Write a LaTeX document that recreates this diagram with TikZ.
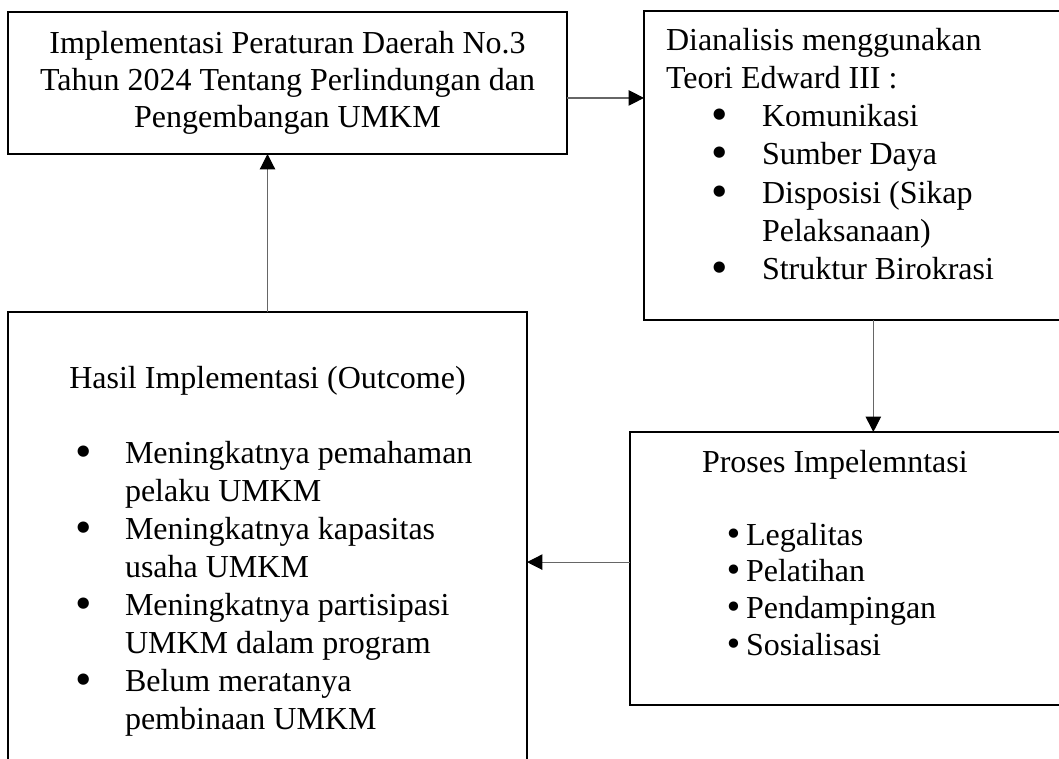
\documentclass[tikz,border=0pt]{standalone}
\usepackage{fontspec}
\setmainfont{Liberation Serif}
\newfontfamily\dotfont{DejaVu Sans}
\usetikzlibrary{arrows.meta}

\newlength\pxu
\setlength\pxu{0.375pt}
\newcommand{\bigdot}{{\dotfont\bfseries\textbullet}}
\newcommand{\smalldot}{{\dotfont\textbullet}}
\newcommand{\textat}[2]{\hspace*{#1\pxu}#2}
\newcommand{\bulletat}[4][\bigdot]{\hspace*{#2\pxu}\makebox[0pt]{#1}\hspace*{\dimexpr#3\pxu-#2\pxu\relax}#4}
\newcommand{\boxpage}[4]{\begin{minipage}[c][#2\pxu][t]{#1\pxu}\setlength\baselineskip{#3\pxu}#4\end{minipage}}

\tikzstyle{block} = [rectangle, draw=black, line width=0.6pt, inner sep=0pt, outer sep=0pt, anchor=north west, font=\fontsize{12pt}{14pt}\selectfont]
\tikzstyle{arrow} = [draw=black!60, line width=0.45pt, -{Triangle[length=5.8pt, width=5.8pt, color=black]}]

\begin{document}
\begin{tikzpicture}[x=0.375pt, y=-0.375pt]
   \useasboundingbox (0,0) rectangle (1059,758);
   \node (impl) [block] at (8,12) {\boxpage{559}{142}{37}{\centering
      \rule{0pt}{41\pxu}Implementasi Peraturan Daerah No.3\\
      Tahun 2024 Tentang Perlindungan dan\\
      Pengembangan UMKM}};
   \node (teori) [block] at (644,11) {\boxpage{421}{309}{38.3}{%
      \textat{22}{\rule{0pt}{39\pxu}Dianalisis menggunakan}\\
      \textat{22}{Teori Edward III :}\\
      \bulletat{75.5}{118}{Komunikasi}\\
      \bulletat{75.5}{118}{Sumber Daya}\\
      \bulletat{75.5}{118}{Disposisi (Sikap}\\
      \textat{118}{Pelaksanaan)}\\
      \bulletat{75.5}{118}{Struktur Birokrasi}}};
   \node (proses) [block] at (630,432) {\boxpage{435}{273}{36.7}{%
      \textat{72}{\rule{0pt}{40\pxu}Proses Impelemntasi}\\[36.3\pxu]
      \bulletat[\smalldot]{104}{116}{Legalitas}\\
      \bulletat[\smalldot]{104}{116}{Pelatihan}\\
      \bulletat[\smalldot]{104}{116}{Pendampingan}\\
      \bulletat[\smalldot]{104}{116}{Sosialisasi}}};
   \node (hasil) [block] at (8,312) {\boxpage{519}{460}{38}{%
      \rule{0pt}{76\pxu}\makebox[\linewidth]{Hasil Implementasi (Outcome)}\\[37\pxu]
      \bulletat{76}{117}{Meningkatnya pemahaman}\\
      \textat{117}{pelaku UMKM}\\
      \bulletat{76}{117}{Meningkatnya kapasitas}\\
      \textat{117}{usaha UMKM}\\
      \bulletat{76}{117}{Meningkatnya partisipasi}\\
      \textat{117}{UMKM dalam program}\\
      \bulletat{76}{117}{Belum meratanya}\\
      \textat{117}{pembinaan UMKM}}};
   \draw [arrow] ([yshift=-5.6pt]impl.east) -- ([yshift=-5.6pt]impl.east -| teori.west);
   \draw [arrow] ([xshift=86pt]teori.south west) -- ([xshift=86pt]teori.south west |- proses.north);
   \draw [arrow] ([yshift=2.4pt]proses.west) -- ([yshift=2.4pt]proses.west -| hasil.east);
   \draw [arrow] (hasil.north) -- (hasil.north |- impl.south);
\end{tikzpicture}
\end{document}
